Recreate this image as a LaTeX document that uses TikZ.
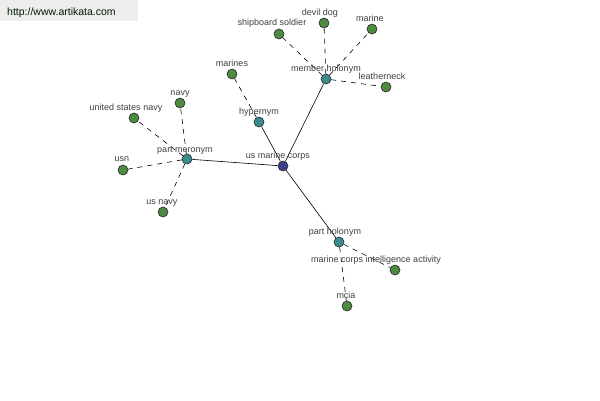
\documentclass[tikz,border=0pt]{standalone}
\usepackage{fontspec}
\setmainfont{Liberation Sans}
\begin{document}
\begin{tikzpicture}[x=1pt,y=-1pt,
  dot/.style={circle,draw=black!85,line width=0.6pt,minimum size=10pt,inner sep=0pt},
  leaf/.style={dot,fill=leafc},
  hub/.style={dot,fill=hubc},
  root/.style={dot,fill=rootc},
  lbl/.style={font=\fontsize{9}{10}\selectfont,text=black!75,inner sep=0pt,anchor=base},
  solidedge/.style={draw=black,line width=0.6pt},
  dashedge/.style={draw=black,line width=0.6pt,dash pattern=on 5pt off 5pt}]
\definecolor{leafc}{HTML}{4E8A42}
\definecolor{hubc}{HTML}{3A8C8A}
\definecolor{rootc}{HTML}{3E3E8E}
\useasboundingbox (0,0) rectangle (600,400);
\fill[white] (0,0) rectangle (600,400);
\fill[black!7] (0,0) rectangle (138,21);
\node[font=\fontsize{10.5}{12}\selectfont,text=black!75!green!40!black,anchor=base west,inner sep=0pt] (wm) at (7,15) {http://www.artikata.com};
% nodes
\node[root] (umc) at (283,166) {};
\node[hub] (hyp) at (259,122) {};
\node[hub] (mh) at (326,79) {};
\node[hub] (pm) at (187,159) {};
\node[hub] (ph) at (339,242) {};
\node[leaf] (marines) at (232,74) {};
\node[leaf] (ss) at (279,34) {};
\node[leaf] (dd) at (324,23) {};
\node[leaf] (marine) at (372,29) {};
\node[leaf] (ln) at (386,87) {};
\node[leaf] (navy) at (180,103) {};
\node[leaf] (usnavy2) at (134,118) {};
\node[leaf] (usn) at (123,170) {};
\node[leaf] (usnavy) at (163,212) {};
\node[leaf] (mcia2) at (395,270) {};
\node[leaf] (mcia) at (347,306) {};
% edges
\draw[solidedge] (umc) -- (hyp);
\draw[solidedge] (umc) -- (mh);
\draw[solidedge] (umc) -- (pm);
\draw[solidedge] (umc) -- (ph);
\draw[dashedge] (hyp) -- (marines);
\draw[dashedge] (mh) -- (ss);
\draw[dashedge] (mh) -- (dd);
\draw[dashedge] (mh) -- (marine);
\draw[dashedge] (mh) -- (ln);
\draw[dashedge] (pm) -- (navy);
\draw[dashedge] (pm) -- (usnavy2);
\draw[dashedge] (pm) -- (usn);
\draw[dashedge] (pm) -- (usnavy);
\draw[dashedge] (ph) -- (mcia2);
\draw[dashedge] (ph) -- (mcia);
% labels
\node[lbl] (l-umc) at (278,158) {us marine corps};
\node[lbl] (l-hyp) at (259,114) {hypernym};
\node[lbl] (l-mh) at (326,71) {member holonym};
\node[lbl] (l-pm) at (185,152) {part meronym};
\node[lbl] (l-ph) at (335,234) {part holonym};
\node[lbl] (l-marines) at (232,66) {marines};
\node[lbl] (l-ss) at (272,25) {shipboard soldier};
\node[lbl] (l-dd) at (320,15) {devil dog};
\node[lbl] (l-marine) at (370,21) {marine};
\node[lbl] (l-ln) at (382,79) {leatherneck};
\node[lbl] (l-navy) at (180,95) {navy};
\node[lbl] (l-usnavy2) at (126,110) {united states navy};
\node[lbl] (l-usn) at (122,161) {usn};
\node[lbl] (l-usnavy) at (162,204) {us navy};
\node[lbl] (l-mcia2) at (376,262) {marine corps intelligence activity};
\node[lbl] (l-mcia) at (346,298) {mcia};
\end{tikzpicture}
\end{document}
